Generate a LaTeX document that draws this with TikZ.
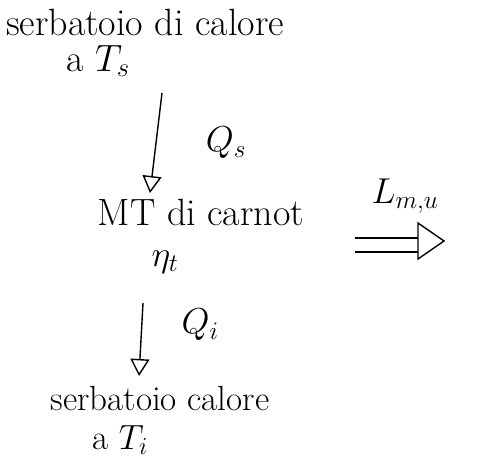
\RequirePackage{fix-cm}
\documentclass[tikz,border=0pt]{standalone}
\usetikzlibrary{arrows.meta}
\begin{document}
\begin{tikzpicture}[x=1pt,y=-1pt,
  lbl/.style={inner sep=0pt,font=\fontsize{38}{44}\selectfont},
  lbls/.style={inner sep=0pt,font=\fontsize{35}{40}\selectfont},
  sym/.style={inner sep=0pt,font=\fontsize{36}{42}\selectfont},
  flow/.style={line width=1.4pt,-{Triangle[open,length=17pt,width=19pt,line width=1.4pt]}},
  work/.style={line width=1.4pt}]
\useasboundingbox (0,0) rectangle (486,461);
\node[lbl] (hot1) at (145,22) {serbatoio di calore};
\node[lbl] (hot2) at (98,61) {a $T_s$};
\node[sym] (qs) at (226,143) {$Q_s$};
\node[lbl] (mt) at (201,212) {MT di carnot};
\node[sym] (eta) at (165,262) {$\eta_t$};
\node[sym] (qi) at (200,325) {$Q_i$};
\node[lbls] (cold1) at (160,398) {serbatoio calore};
\node[lbls] (cold2) at (120,440) {a $T_i$};
\node[sym] (lmu) at (405,196) {$L_{m,u}$};
\coordinate (a1s) at (162,93);
\coordinate (a1e) at (150,193);
\coordinate (a2s) at (143,303);
\coordinate (a2e) at (139,376);
\draw[flow] (a1s) -- (a1e);
\draw[flow] (a2s) -- (a2e);
\coordinate (w1) at (355,238);
\coordinate (w2) at (355,252);
\coordinate (h1) at (418,223);
\coordinate (ht) at (444,241);
\coordinate (h2) at (418,259);
\draw[work] (w1) -- (w1 -| h1);
\draw[work] (w2) -- (w2 -| h1);
\draw[work,line join=miter] (h1) -- (ht) -- (h2) -- cycle;
\end{tikzpicture}
\end{document}
